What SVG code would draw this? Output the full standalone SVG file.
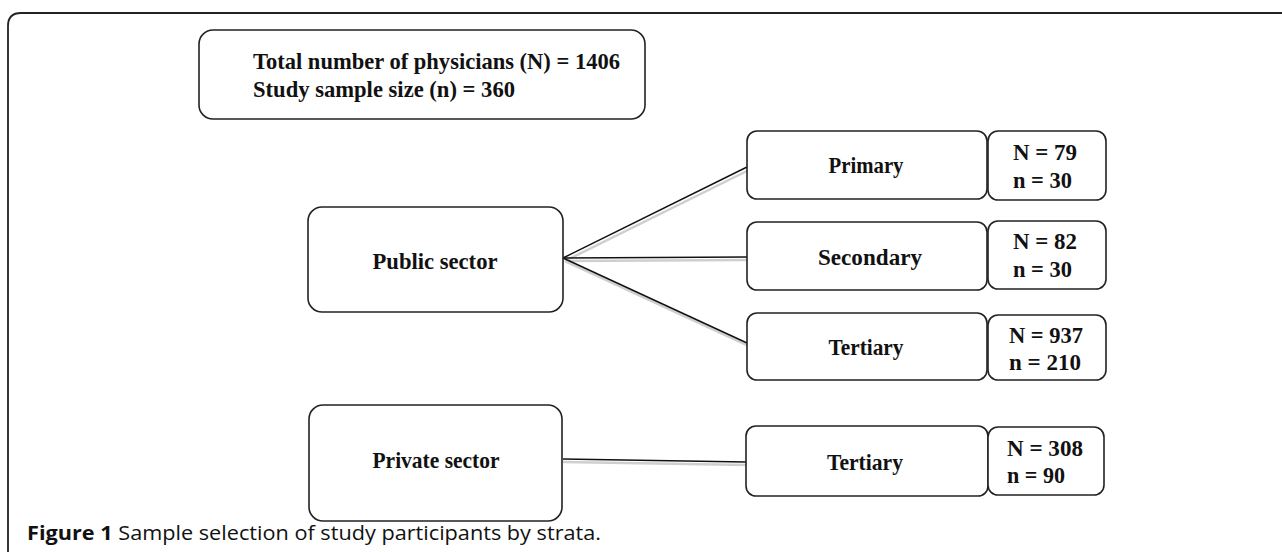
<svg xmlns="http://www.w3.org/2000/svg" width="1282" height="552" viewBox="0 0 1282 552">
<style>
.box{fill:#fff;stroke:#222;stroke-width:1.6}
.t{font-family:"Liberation Serif","Times New Roman",serif;fill:#111;font-size:23px;font-weight:bold}
.lbl{text-anchor:middle}
.con{stroke:#111;stroke-width:1.4;fill:none}
.sh{stroke:#cfcfcf;stroke-width:2.5;fill:none}
.cap{font-family:"Open Sans","Noto Sans",sans-serif;font-size:20px;fill:#111}
</style>
<rect width="1282" height="552" fill="#fff"/>
<path d="M8 552 V26 Q8 13 21 13 H1282" fill="none" stroke="#222" stroke-width="1.8"/>
<g id="connectors">
<line class="sh" x1="565" y1="261" x2="749" y2="170"/>
<line class="sh" x1="565" y1="261" x2="749" y2="260"/>
<line class="sh" x1="565" y1="261" x2="749" y2="346"/>
<line class="sh" x1="563" y1="462" x2="748" y2="465"/>
<line class="con" x1="563" y1="258" x2="747" y2="167"/>
<line class="con" x1="563" y1="258" x2="747" y2="257"/>
<line class="con" x1="563" y1="258" x2="747" y2="343"/>
<line class="con" x1="563" y1="459" x2="746" y2="462"/>
</g>
<g id="total">
<rect class="box" x="199" y="30" width="446" height="89" rx="14"/>
<text class="t" x="253" y="69" font-size="24" textLength="367" lengthAdjust="spacingAndGlyphs">Total number of physicians (N) = 1406</text>
<text class="t" x="253" y="97" font-size="24" textLength="262" lengthAdjust="spacingAndGlyphs">Study sample size (n) = 360</text>
</g>
<g id="public">
<rect class="box" x="308" y="207" width="255" height="105" rx="14"/>
<text class="t lbl" x="435" y="269" font-size="24" textLength="125" lengthAdjust="spacingAndGlyphs">Public sector</text>
</g>
<g id="private">
<rect class="box" x="309" y="405" width="253" height="116" rx="14"/>
<text class="t lbl" x="436" y="468" font-size="24" textLength="127" lengthAdjust="spacingAndGlyphs">Private sector</text>
</g>
<g id="primary">
<rect class="box" x="747" y="131" width="240" height="68" rx="10"/>
<text class="t lbl" x="866" y="173" font-size="24" textLength="75" lengthAdjust="spacingAndGlyphs">Primary</text>
</g>
<g id="primary-n">
<rect class="box" x="988" y="131" width="118" height="69" rx="10"/>
<text class="t" x="1013" y="160" textLength="64" lengthAdjust="spacingAndGlyphs">N = 79</text>
<text class="t" x="1013" y="188" textLength="59" lengthAdjust="spacingAndGlyphs">n = 30</text>
</g>
<g id="secondary">
<rect class="box" x="747" y="222" width="240" height="68" rx="10"/>
<text class="t lbl" x="870" y="265" font-size="24" textLength="104" lengthAdjust="spacingAndGlyphs">Secondary</text>
</g>
<g id="secondary-n">
<rect class="box" x="988" y="221" width="118" height="68" rx="10"/>
<text class="t" x="1013" y="249" textLength="64" lengthAdjust="spacingAndGlyphs">N = 82</text>
<text class="t" x="1013" y="277" textLength="59" lengthAdjust="spacingAndGlyphs">n = 30</text>
</g>
<g id="tertiary-public">
<rect class="box" x="747" y="313" width="240" height="67" rx="10"/>
<text class="t lbl" x="866" y="355" font-size="24" textLength="75" lengthAdjust="spacingAndGlyphs">Tertiary</text>
</g>
<g id="tertiary-public-n">
<rect class="box" x="988" y="315" width="118" height="65" rx="10"/>
<text class="t" x="1009" y="343" textLength="74" lengthAdjust="spacingAndGlyphs">N = 937</text>
<text class="t" x="1009" y="370" textLength="72" lengthAdjust="spacingAndGlyphs">n = 210</text>
</g>
<g id="tertiary-private">
<rect class="box" x="746" y="426" width="242" height="70" rx="10"/>
<text class="t lbl" x="865" y="470" font-size="24" textLength="76" lengthAdjust="spacingAndGlyphs">Tertiary</text>
</g>
<g id="tertiary-private-n">
<rect class="box" x="988" y="427" width="116" height="68" rx="10"/>
<text class="t" x="1007" y="456" textLength="76" lengthAdjust="spacingAndGlyphs">N = 308</text>
<text class="t" x="1007" y="483" textLength="58" lengthAdjust="spacingAndGlyphs">n = 90</text>
</g>
<text class="cap" x="27" y="540" textLength="574" lengthAdjust="spacingAndGlyphs"><tspan font-weight="bold">Figure 1</tspan> Sample selection of study participants by strata.</text>
</svg>
